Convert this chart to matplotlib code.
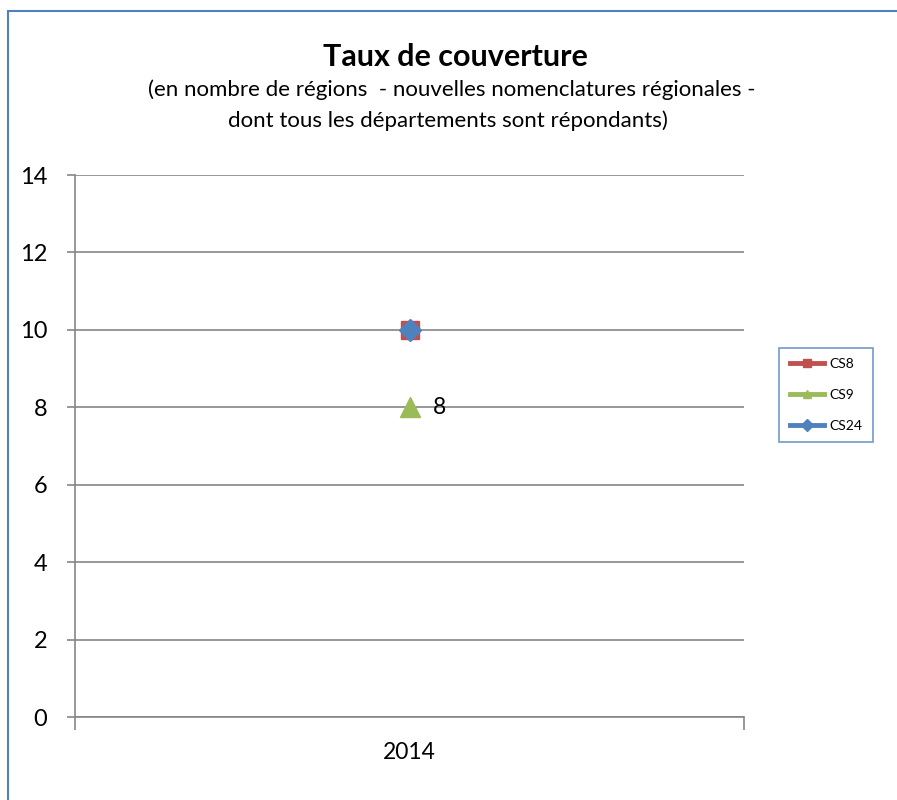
import matplotlib
matplotlib.use("Agg")
import matplotlib.pyplot as plt
from matplotlib.lines import Line2D
from matplotlib.patches import Rectangle

plt.rcParams['font.family'] = ['Lato', 'DejaVu Sans']

categories = ["2014"]
series = ["CS8", "CS9", "CS24"]
values = {"CS8": [10], "CS9": [8], "CS24": [10]}
colors = {"CS8": "#C0504D", "CS9": "#9BBB59", "CS24": "#4F81BD"}
markers = {"CS8": "s", "CS9": "^", "CS24": "D"}
msizes = {"CS8": 13, "CS9": 14, "CS24": 11}
labelled = {"CS9": True}
yticks = [0, 2, 4, 6, 8, 10, 12, 14]

fig = plt.figure(figsize=(8.97, 8.0), dpi=100)
# outer chart border (blue)
fig.patches.append(Rectangle((8/897, -0.01), 1.0, (800-11)/800 + 0.01, transform=fig.transFigure,
                             fill=False, edgecolor="#4F81BD", linewidth=1.5))

ax = fig.add_axes([75/897, 83/800, (744-75)/897, (717-175)/800])
ax.set_xlim(-0.5, len(categories) - 0.5)
ax.set_ylim(0, 14)
ax.set_yticks(yticks)
ax.set_yticklabels([str(v) for v in yticks], fontsize=17)
ax.yaxis.grid(True, color="#868686", linewidth=1.2)
ax.set_axisbelow(True)
for s in ["top", "right"]:
    ax.spines[s].set_visible(False)
for s in ["left", "bottom"]:
    ax.spines[s].set_color("#868686")
    ax.spines[s].set_linewidth(1.2)
ax.tick_params(axis="y", length=6, color="#868686", width=1.2, pad=14)
ax.set_xticks([-0.5, 0.5], minor=False)
ax.set_xticklabels([])
ax.tick_params(axis="x", length=9, color="#868686", width=1.2, direction="out")
ax.set_xticks(range(len(categories)), minor=True)
ax.set_xticklabels(categories, minor=True, fontsize=16.5)
ax.tick_params(axis="x", which="minor", length=0, pad=18)

x = list(range(len(categories)))
for name in series:
    ax.plot(x, values[name], linestyle="-", color=colors[name], marker=markers[name],
            markersize=msizes[name], linewidth=3, zorder=3, clip_on=False)
    if labelled.get(name):
        for xi, v in zip(x, values[name]):
            ax.annotate(str(v), (xi, v), xytext=(17, 0), textcoords="offset points",
                        ha="left", va="center", fontsize=16.5)

fig.text(455/897, 1 - 57/800, "Taux de couverture", ha="center", va="center",
         fontsize=22, fontweight="bold")
fig.text(452/897, 1 - 90/800, "(en nombre de régions  - nouvelles nomenclatures régionales -",
         ha="center", va="center", fontsize=16)
fig.text(448/897, 1 - 121/800, "dont tous les départements sont répondants)",
         ha="center", va="center", fontsize=16)

handles = [Line2D([], [], color=colors[n], marker=markers[n], linewidth=3.5, markersize=6)
           for n in series]
leg = fig.legend(handles, series, loc="center", bbox_to_anchor=(826/897, 1 - 395/800),
                 fontsize=10, frameon=True, fancybox=False, handlelength=2.5,
                 labelspacing=1.35, borderpad=0.75, handletextpad=0.35)
leg.get_frame().set_edgecolor("#4F81BD")
leg.get_frame().set_linewidth(1.2)

fig.savefig("out.png", dpi=100)
